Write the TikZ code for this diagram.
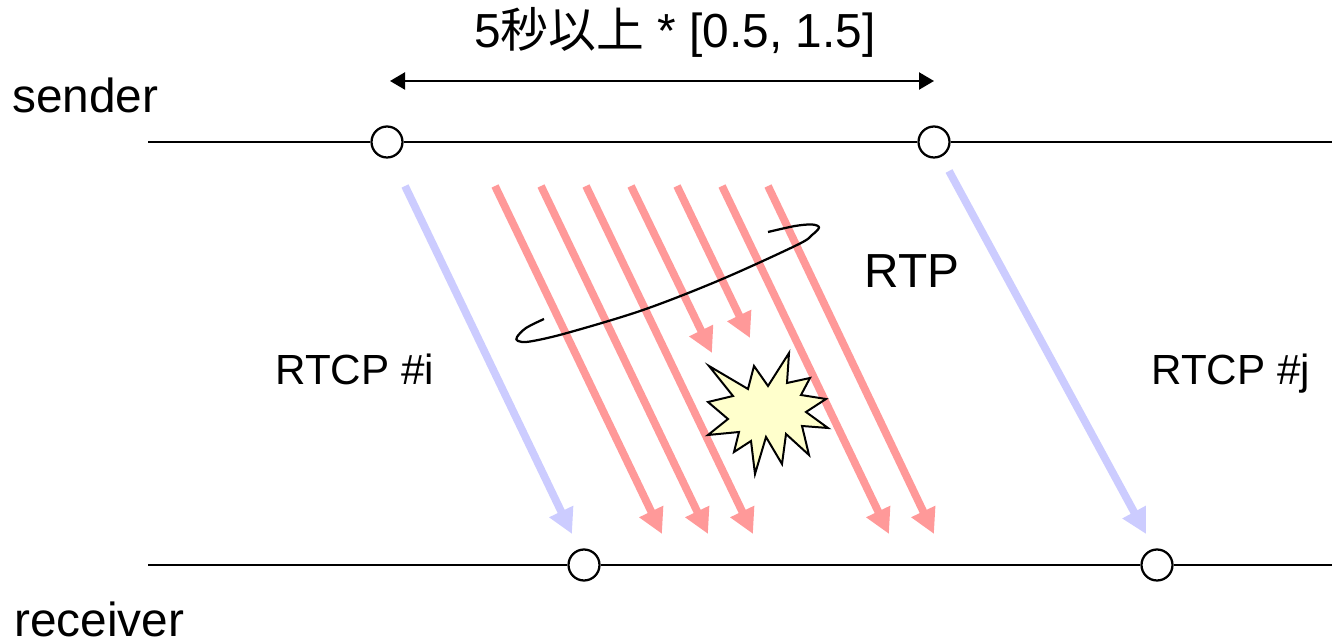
\documentclass[tikz,border=0pt]{standalone}
\usepackage{fontspec}
\setmainfont{Liberation Sans}
\newfontfamily\cjk{Noto Sans CJK JP}
\usetikzlibrary{arrows.meta}
\definecolor{rtpred}{HTML}{FF9999}
\definecolor{rtcpblue}{HTML}{CCCCFF}
\definecolor{burstyellow}{HTML}{FFFFCC}
\tikzset{
  timeline/.style={line width=0.045cm},
  tick/.style={circle, draw, fill=white, line width=0.045cm, minimum size=0.62cm, inner sep=0pt},
  label/.style={anchor=base west, inner sep=0pt, font=\fontsize{27.2}{32}\selectfont},
  rtcplabel/.style={anchor=base west, inner sep=0pt, font=\fontsize{24}{28}\selectfont},
  packet/.style={line width=0.155cm, -{Triangle[length=0.5cm, width=0.5cm]}},
}
\begin{document}
\begin{tikzpicture}[x=0.02cm, y=-0.02cm]
  \useasboundingbox (0,0) rectangle (1332,641);
  %time lines
  \coordinate (senderstart) at (148,142);
  \coordinate (senderend) at (1332,142);
  \coordinate (receiverstart) at (148,565);
  \coordinate (receiverend) at (1332,565);
  \node[tick] (si) at (387,142) {};
  \node[tick] (sj) at (934,142) {};
  \node[tick] (ri) at (584,565) {};
  \node[tick] (rj) at (1157,565) {};
  \draw[timeline] (senderstart) -- (si) -- (sj) -- (senderend);
  \draw[timeline] (receiverstart) -- (ri) -- (rj) -- (receiverend);
  %interval
  \coordinate (intervalleft) at (390,81);
  \coordinate (intervalright) at (934,81);
  \draw[timeline, {Triangle[length=0.3cm, width=0.34cm]}-{Triangle[length=0.3cm, width=0.34cm]}]
        (intervalleft) -- (intervalright);
  %rtcp
  \coordinate (blueistart) at (405,186);
  \coordinate (blueiend) at (572,534);
  \coordinate (bluejstart) at (949,171);
  \coordinate (bluejend) at (1146,534);
  \draw[packet, rtcpblue] (blueistart) -- (blueiend);
  \draw[packet, rtcpblue] (bluejstart) -- (bluejend);
  %rtp
  \foreach \n/\xa/\xb/\yb in {1/495/662/534, 2/541/708/534, 3/586/753/534, 4/631/712/353,
                              5/677/750/338, 6/722/889/534, 7/768/934/534} {
    \coordinate (redstart\n) at (\xa,186);
    \coordinate (redend\n) at (\xb,\yb);
    \draw[packet, rtpred] (redstart\n) -- (redend\n);
  }
  %loop round the packets
  \draw[line width=0.045cm, line join=round] plot[smooth, tension=0.55] coordinates {
        (768,232) (795,226) (812,224.5) (819,227.5) (812,235) (797,245) (720,280) (643,310)
        (567,333) (530,341.5) (518,341) (517,337) (526,328) (544,319)};
  %loss
  \draw[fill=burstyellow, line width=0.04cm, line join=miter]
        (709,366) -- (748,389) -- (754,366) -- (768,386) -- (789,353) -- (787,383)
        -- (810,378) -- (801,395) -- (826,399) -- (806,412) -- (828,428) -- (802,426)
        -- (809,455) -- (786,434) -- (782,464) -- (766,437) -- (755,474) -- (751,441)
        -- (734,452) -- (739,432) -- (708,435) -- (728,419) -- (708,402) -- (733,396) -- cycle;
  %texts
  \node[label] (sender) at (12,113) {sender};
  \node[label] (receiver) at (14,636) {receiver};
  \node[label] (interval) at (474,48) {5{\cjk 秒以上} * [0.5, 1.5]};
  \node[label] (rtp) at (864,288) {RTP};
  \node[rtcplabel] (rtcpi) at (275,385) {RTCP \#i};
  \node[rtcplabel] (rtcpj) at (1151,385) {RTCP \#j};
\end{tikzpicture}
\end{document}
